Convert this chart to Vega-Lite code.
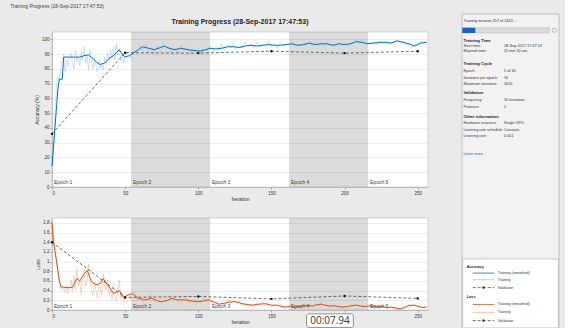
{
  "$schema": "https://vega.github.io/schema/vega-lite/v6.json",
  "background": "#eaeaea",
  "padding": {"left": 10, "top": 3, "right": 5, "bottom": 0},
  "title": {"text": "Training Progress (28-Sep-2017 17:47:53)", "anchor": "start", "fontSize": 5, "fontWeight": "normal", "color": "#444", "dx": -24, "offset": 5},
  "datasets": {
    "epochs": [{"n":"Epoch 1","s":0,"e":54,"g":0},{"n":"Epoch 2","s":54,"e":108,"g":1},{"n":"Epoch 3","s":108,"e":162,"g":0},{"n":"Epoch 4","s":162,"e":216,"g":1},{"n":"Epoch 5","s":216,"e":270,"g":0}],
    "accSm": [{"i":0,"v":14},{"i":2,"v":40},{"i":4,"v":66},{"i":5,"v":73},{"i":7,"v":73},{"i":8,"v":88},{"i":12,"v":88},{"i":16,"v":88},{"i":19,"v":88},{"i":22,"v":89},{"i":25,"v":89.5},{"i":28,"v":87},{"i":31,"v":84},{"i":33,"v":83},{"i":36,"v":84},{"i":39,"v":87},{"i":42,"v":89},{"i":44,"v":91},{"i":46,"v":93},{"i":48,"v":90},{"i":50,"v":88},{"i":53,"v":89},{"i":56,"v":91},{"i":59,"v":93},{"i":62,"v":95},{"i":66,"v":94},{"i":70,"v":93},{"i":74,"v":94.5},{"i":77,"v":95.5},{"i":80,"v":94},{"i":84,"v":93},{"i":88,"v":94},{"i":93,"v":93},{"i":97,"v":92.5},{"i":101,"v":92},{"i":105,"v":93},{"i":108,"v":94},{"i":112,"v":93.5},{"i":116,"v":94},{"i":120,"v":95},{"i":124,"v":95},{"i":128,"v":94.5},{"i":132,"v":95.5},{"i":136,"v":96},{"i":140,"v":95.5},{"i":144,"v":96},{"i":148,"v":96.5},{"i":152,"v":96},{"i":156,"v":96},{"i":160,"v":96.5},{"i":164,"v":97},{"i":168,"v":96},{"i":172,"v":96.5},{"i":176,"v":97.5},{"i":180,"v":96.5},{"i":184,"v":97},{"i":188,"v":97},{"i":192,"v":96},{"i":196,"v":97},{"i":200,"v":96.5},{"i":204,"v":97},{"i":208,"v":98.5},{"i":212,"v":98},{"i":216,"v":97},{"i":220,"v":97.5},{"i":224,"v":98},{"i":228,"v":98},{"i":232,"v":97.5},{"i":236,"v":99},{"i":240,"v":98},{"i":244,"v":97},{"i":248,"v":95.5},{"i":252,"v":97.5},{"i":256,"v":98}],
    "accRaw": [{"i":0,"v":9},{"i":1,"v":22},{"i":2,"v":48},{"i":3,"v":68},{"i":4,"v":75},{"i":5,"v":72},{"i":6,"v":80},{"i":7,"v":87},{"i":8,"v":90},{"i":9,"v":78},{"i":10,"v":86},{"i":11,"v":82},{"i":12,"v":88},{"i":13,"v":91},{"i":14,"v":84},{"i":15,"v":80},{"i":16,"v":92},{"i":17,"v":85},{"i":18,"v":88},{"i":19,"v":82},{"i":20,"v":92},{"i":21,"v":86},{"i":22,"v":95},{"i":23,"v":84},{"i":24,"v":89},{"i":25,"v":79},{"i":26,"v":93},{"i":27,"v":85},{"i":28,"v":80},{"i":29,"v":88},{"i":30,"v":82},{"i":31,"v":78},{"i":32,"v":86},{"i":33,"v":80},{"i":34,"v":84},{"i":35,"v":79},{"i":36,"v":88},{"i":37,"v":83},{"i":38,"v":91},{"i":39,"v":85},{"i":40,"v":93},{"i":41,"v":87},{"i":42,"v":95},{"i":43,"v":86},{"i":44,"v":97},{"i":45,"v":89},{"i":46,"v":93},{"i":47,"v":85},{"i":48,"v":90},{"i":49,"v":84},{"i":50,"v":89},{"i":52,"v":92},{"i":54,"v":87},{"i":56,"v":94},{"i":58,"v":90},{"i":60,"v":96},{"i":62,"v":92},{"i":64,"v":97},{"i":66,"v":91},{"i":68,"v":95},{"i":70,"v":90},{"i":72,"v":96},{"i":74,"v":92},{"i":76,"v":98},{"i":78,"v":93},{"i":80,"v":95},{"i":82,"v":90},{"i":84,"v":94},{"i":86,"v":91},{"i":88,"v":96},{"i":90,"v":92},{"i":92,"v":95},{"i":94,"v":90},{"i":96,"v":94},{"i":98,"v":91},{"i":100,"v":93},{"i":102,"v":90},{"i":104,"v":95},{"i":106,"v":92},{"i":108,"v":96},{"i":110,"v":91},{"i":112,"v":95},{"i":114,"v":93},{"i":116,"v":97},{"i":118,"v":92},{"i":120,"v":96},{"i":122,"v":94},{"i":124,"v":98},{"i":126,"v":93},{"i":128,"v":96},{"i":130,"v":94},{"i":132,"v":98},{"i":134,"v":95},{"i":136,"v":97},{"i":138,"v":94},{"i":140,"v":98},{"i":142,"v":95},{"i":144,"v":97},{"i":146,"v":95},{"i":148,"v":99},{"i":150,"v":95},{"i":152,"v":97},{"i":154,"v":94},{"i":156,"v":98},{"i":158,"v":95},{"i":160,"v":97},{"i":162,"v":96},{"i":164,"v":99},{"i":166,"v":95},{"i":168,"v":97},{"i":170,"v":95},{"i":172,"v":98},{"i":174,"v":96},{"i":176,"v":99},{"i":178,"v":95},{"i":180,"v":98},{"i":182,"v":96},{"i":184,"v":98},{"i":186,"v":95},{"i":188,"v":99},{"i":190,"v":96},{"i":192,"v":97},{"i":194,"v":95},{"i":196,"v":98},{"i":198,"v":96},{"i":200,"v":97},{"i":202,"v":95},{"i":204,"v":98},{"i":206,"v":97},{"i":208,"v":100},{"i":210,"v":97},{"i":212,"v":99},{"i":214,"v":96},{"i":216,"v":98},{"i":218,"v":97},{"i":220,"v":99},{"i":222,"v":96},{"i":224,"v":99},{"i":226,"v":97},{"i":228,"v":99},{"i":230,"v":96},{"i":232,"v":98},{"i":234,"v":98},{"i":236,"v":100},{"i":238,"v":97},{"i":240,"v":99},{"i":242,"v":96},{"i":244,"v":97},{"i":246,"v":94},{"i":248,"v":96},{"i":250,"v":97},{"i":252,"v":99},{"i":254,"v":97},{"i":256,"v":99}],
    "accVal": [{"i":0,"v":36},{"i":50,"v":91},{"i":100,"v":90.7},{"i":150,"v":92},{"i":200,"v":90.7},{"i":250,"v":92}],
    "lossSm": [{"i":0,"v":1.81},{"i":1,"v":1.4},{"i":3,"v":1.03},{"i":4,"v":0.82},{"i":5,"v":0.62},{"i":6,"v":0.48},{"i":8,"v":0.47},{"i":11,"v":0.46},{"i":14,"v":0.47},{"i":17,"v":0.65},{"i":19,"v":0.6},{"i":21,"v":0.7},{"i":24,"v":0.82},{"i":27,"v":0.58},{"i":30,"v":0.52},{"i":33,"v":0.55},{"i":35,"v":0.65},{"i":37,"v":0.56},{"i":39,"v":0.48},{"i":42,"v":0.34},{"i":44,"v":0.37},{"i":46,"v":0.4},{"i":49,"v":0.26},{"i":52,"v":0.31},{"i":55,"v":0.34},{"i":59,"v":0.24},{"i":64,"v":0.21},{"i":68,"v":0.24},{"i":72,"v":0.19},{"i":75,"v":0.17},{"i":79,"v":0.2},{"i":82,"v":0.24},{"i":86,"v":0.21},{"i":91,"v":0.21},{"i":95,"v":0.19},{"i":100,"v":0.17},{"i":104,"v":0.19},{"i":107,"v":0.21},{"i":111,"v":0.16},{"i":114,"v":0.12},{"i":118,"v":0.14},{"i":122,"v":0.17},{"i":126,"v":0.17},{"i":130,"v":0.13},{"i":134,"v":0.11},{"i":137,"v":0.1},{"i":141,"v":0.12},{"i":146,"v":0.13},{"i":150,"v":0.1},{"i":154,"v":0.1},{"i":157,"v":0.07},{"i":160,"v":0.06},{"i":163,"v":0.08},{"i":166,"v":0.06},{"i":169,"v":0.07},{"i":172,"v":0.09},{"i":175,"v":0.1},{"i":178,"v":0.08},{"i":181,"v":0.11},{"i":184,"v":0.12},{"i":187,"v":0.1},{"i":190,"v":0.08},{"i":193,"v":0.09},{"i":196,"v":0.07},{"i":199,"v":0.06},{"i":202,"v":0.07},{"i":205,"v":0.09},{"i":208,"v":0.1},{"i":211,"v":0.08},{"i":214,"v":0.07},{"i":217,"v":0.09},{"i":220,"v":0.08},{"i":223,"v":0.06},{"i":226,"v":0.07},{"i":229,"v":0.05},{"i":232,"v":0.06},{"i":235,"v":0.04},{"i":238,"v":0.02},{"i":241,"v":0.05},{"i":244,"v":0.09},{"i":247,"v":0.1},{"i":250,"v":0.08},{"i":253,"v":0.05},{"i":256,"v":0.06}],
    "lossRaw": [{"i":0,"v":1.85},{"i":1,"v":1.55},{"i":2,"v":1.25},{"i":3,"v":1.0},{"i":4,"v":0.8},{"i":5,"v":0.55},{"i":6,"v":0.5},{"i":7,"v":0.4},{"i":8,"v":0.48},{"i":9,"v":0.36},{"i":10,"v":0.52},{"i":11,"v":0.34},{"i":12,"v":0.46},{"i":13,"v":0.62},{"i":14,"v":0.38},{"i":15,"v":0.72},{"i":16,"v":0.42},{"i":17,"v":0.85},{"i":18,"v":0.5},{"i":19,"v":0.6},{"i":20,"v":0.32},{"i":21,"v":0.7},{"i":22,"v":0.85},{"i":23,"v":0.48},{"i":24,"v":0.62},{"i":25,"v":0.95},{"i":26,"v":0.55},{"i":27,"v":0.42},{"i":28,"v":0.3},{"i":29,"v":0.58},{"i":30,"v":0.4},{"i":31,"v":0.24},{"i":32,"v":0.52},{"i":33,"v":0.46},{"i":34,"v":0.32},{"i":35,"v":0.75},{"i":36,"v":0.5},{"i":37,"v":0.4},{"i":38,"v":0.62},{"i":39,"v":0.28},{"i":40,"v":0.45},{"i":41,"v":0.22},{"i":42,"v":0.55},{"i":43,"v":0.28},{"i":44,"v":0.18},{"i":45,"v":0.42},{"i":46,"v":0.62},{"i":47,"v":0.24},{"i":48,"v":0.35},{"i":49,"v":0.18},{"i":50,"v":0.3},{"i":52,"v":0.36},{"i":54,"v":0.22},{"i":56,"v":0.4},{"i":58,"v":0.18},{"i":60,"v":0.3},{"i":62,"v":0.14},{"i":64,"v":0.26},{"i":66,"v":0.2},{"i":68,"v":0.34},{"i":70,"v":0.15},{"i":72,"v":0.25},{"i":74,"v":0.12},{"i":76,"v":0.22},{"i":78,"v":0.16},{"i":80,"v":0.3},{"i":82,"v":0.18},{"i":84,"v":0.26},{"i":86,"v":0.14},{"i":88,"v":0.24},{"i":90,"v":0.17},{"i":92,"v":0.28},{"i":94,"v":0.12},{"i":96,"v":0.2},{"i":98,"v":0.1},{"i":100,"v":0.22},{"i":102,"v":0.14},{"i":104,"v":0.25},{"i":106,"v":0.16},{"i":108,"v":0.22},{"i":110,"v":0.12},{"i":112,"v":0.18},{"i":114,"v":0.08},{"i":116,"v":0.16},{"i":118,"v":0.1},{"i":120,"v":0.22},{"i":122,"v":0.12},{"i":124,"v":0.2},{"i":126,"v":0.14},{"i":128,"v":0.18},{"i":130,"v":0.08},{"i":132,"v":0.14},{"i":134,"v":0.07},{"i":136,"v":0.12},{"i":138,"v":0.06},{"i":140,"v":0.15},{"i":142,"v":0.09},{"i":144,"v":0.16},{"i":146,"v":0.1},{"i":148,"v":0.12},{"i":150,"v":0.06},{"i":152,"v":0.1},{"i":154,"v":0.05},{"i":156,"v":0.12},{"i":158,"v":0.04},{"i":160,"v":0.09},{"i":162,"v":0.05},{"i":164,"v":0.1},{"i":166,"v":0.04},{"i":168,"v":0.08},{"i":170,"v":0.06},{"i":172,"v":0.12},{"i":174,"v":0.07},{"i":176,"v":0.13},{"i":178,"v":0.06},{"i":180,"v":0.14},{"i":182,"v":0.08},{"i":184,"v":0.15},{"i":186,"v":0.07},{"i":188,"v":0.12},{"i":190,"v":0.05},{"i":192,"v":0.1},{"i":194,"v":0.06},{"i":196,"v":0.09},{"i":198,"v":0.04},{"i":200,"v":0.08},{"i":202,"v":0.05},{"i":204,"v":0.11},{"i":206,"v":0.07},{"i":208,"v":0.13},{"i":210,"v":0.06},{"i":212,"v":0.1},{"i":214,"v":0.05},{"i":216,"v":0.11},{"i":218,"v":0.06},{"i":220,"v":0.1},{"i":222,"v":0.04},{"i":224,"v":0.08},{"i":226,"v":0.05},{"i":228,"v":0.07},{"i":230,"v":0.03},{"i":232,"v":0.08},{"i":234,"v":0.03},{"i":236,"v":0.05},{"i":238,"v":0.02},{"i":240,"v":0.06},{"i":242,"v":0.08},{"i":244,"v":0.12},{"i":246,"v":0.09},{"i":248,"v":0.13},{"i":250,"v":0.06},{"i":252,"v":0.08},{"i":254,"v":0.04},{"i":256,"v":0.07}],
    "lossVal": [{"i":0,"v":1.4},{"i":50,"v":0.26},{"i":100,"v":0.28},{"i":150,"v":0.23},{"i":200,"v":0.29},{"i":250,"v":0.24}],
    "info": [
      {"l":0,"c":0,"t":"Training iteration 257 of 1620...","w":"n"},
      {"l":3,"c":0,"t":"Training Time","w":"b"},
      {"l":3.8,"c":0,"t":"Start time:","w":"n"},{"l":3.8,"c":1,"t":"28-Sep-2017 17:47:53","w":"n"},
      {"l":4.6,"c":0,"t":"Elapsed time:","w":"n"},{"l":4.6,"c":1,"t":"15 min 50 sec","w":"n"},
      {"l":6.5,"c":0,"t":"Training Cycle","w":"b"},
      {"l":7.6,"c":0,"t":"Epoch:","w":"n"},{"l":7.6,"c":1,"t":"5 of 30","w":"n"},
      {"l":8.6,"c":0,"t":"Iterations per epoch:","w":"n"},{"l":8.6,"c":1,"t":"54","w":"n"},
      {"l":9.6,"c":0,"t":"Maximum iterations:","w":"n"},{"l":9.6,"c":1,"t":"1620","w":"n"},
      {"l":10.9,"c":0,"t":"Validation","w":"b"},
      {"l":12,"c":0,"t":"Frequency:","w":"n"},{"l":12,"c":1,"t":"50 iterations","w":"n"},
      {"l":13,"c":0,"t":"Patience:","w":"n"},{"l":13,"c":1,"t":"5","w":"n"},
      {"l":14.5,"c":0,"t":"Other information","w":"b"},
      {"l":15.5,"c":0,"t":"Hardware resource:","w":"n"},{"l":15.5,"c":1,"t":"Single GPU","w":"n"},
      {"l":16.5,"c":0,"t":"Learning rate schedule:","w":"n"},{"l":16.5,"c":1,"t":"Constant","w":"n"},
      {"l":17.5,"c":0,"t":"Learning rate:","w":"n"},{"l":17.5,"c":1,"t":"0.001","w":"n"},
      {"l":20.2,"c":0,"t":"Learn more","w":"k"}
    ],
    "leg": [
      {"l":37.3,"t":"Accuracy","k":"h"},
      {"l":38.2,"t":"Training (smoothed)","k":"as"},
      {"l":39.2,"t":"Training","k":"ar"},
      {"l":40.4,"t":"Validation","k":"v"},
      {"l":41.8,"t":"Loss","k":"h"},
      {"l":42.95,"t":"Training (smoothed)","k":"ls"},
      {"l":44.15,"t":"Training","k":"lr"},
      {"l":45.4,"t":"Validation","k":"v"}
    ]
  },
  "spacing": 32,
  "hconcat": [
    {
      "spacing": 15,
      "vconcat": [
        {
          "width": 376, "height": 155,
          "title": {"text": "Training Progress (28-Sep-2017 17:47:53)", "fontSize": 7, "fontWeight": "bold", "color": "#222", "offset": 7.5},
          "layer": [
            {"data": {"name": "epochs"}, "transform": [{"filter": "datum.g == 1"}],
             "mark": {"type": "rect", "color": "#000", "opacity": 0.14, "clip": true},
             "encoding": {
               "x": {"field": "s", "type": "quantitative", "title": "Iteration", "scale": {"domain": [0, 257], "nice": false}, "axis": {"values": [0,50,100,150,200,250], "grid": false}},
               "x2": {"field": "e"}}},
            {"data": {"name": "accRaw"}, "mark": {"type": "line", "color": "#a9cbe8", "strokeWidth": 0.6},
             "encoding": {
               "x": {"field": "i", "type": "quantitative", "title": "Iteration", "scale": {"domain": [0, 257], "nice": false}, "axis": {"values": [0,50,100,150,200,250], "grid": false}},
               "y": {"field": "v", "type": "quantitative", "title": "Accuracy (%)", "scale": {"domain": [0, 105], "nice": false}, "axis": {"values": [0,10,20,30,40,50,60,70,80,90,100], "labelOverlap": false}}}},
            {"data": {"name": "accSm"}, "mark": {"type": "line", "color": "#0072bd", "strokeWidth": 1},
             "encoding": {
               "x": {"field": "i", "type": "quantitative", "title": "Iteration", "scale": {"domain": [0, 257], "nice": false}, "axis": {"values": [0,50,100,150,200,250], "grid": false}},
               "y": {"field": "v", "type": "quantitative", "title": "Accuracy (%)", "scale": {"domain": [0, 105], "nice": false}, "axis": {"values": [0,10,20,30,40,50,60,70,80,90,100], "labelOverlap": false}}}},
            {"data": {"name": "accVal"}, "mark": {"type": "line", "color": "#333", "strokeWidth": 0.7, "strokeDash": [3, 2], "point": {"filled": true, "color": "#111", "size": 6}},
             "encoding": {
               "x": {"field": "i", "type": "quantitative", "title": "Iteration", "scale": {"domain": [0, 257], "nice": false}, "axis": {"values": [0,50,100,150,200,250], "grid": false}},
               "y": {"field": "v", "type": "quantitative", "title": "Accuracy (%)", "scale": {"domain": [0, 105], "nice": false}, "axis": {"values": [0,10,20,30,40,50,60,70,80,90,100], "labelOverlap": false}}}},
            {"data": {"name": "epochs"}, "mark": {"type": "text", "align": "left", "baseline": "bottom", "dx": 2, "dy": -2, "fontSize": 5, "color": "#444", "clip": true},
             "encoding": {
               "x": {"field": "s", "type": "quantitative", "title": "Iteration", "scale": {"domain": [0, 257], "nice": false}, "axis": {"values": [0,50,100,150,200,250], "grid": false}},
               "y": {"datum": 0, "type": "quantitative", "title": "Accuracy (%)", "scale": {"domain": [0, 105], "nice": false}, "axis": {"values": [0,10,20,30,40,50,60,70,80,90,100], "labelOverlap": false}},
               "text": {"field": "n"}}}
          ]
        },
        {
          "width": 376, "height": 92,
          "layer": [
            {"data": {"name": "epochs"}, "transform": [{"filter": "datum.g == 1"}],
             "mark": {"type": "rect", "color": "#000", "opacity": 0.14, "clip": true},
             "encoding": {
               "x": {"field": "s", "type": "quantitative", "title": "Iteration", "scale": {"domain": [0, 257], "nice": false}, "axis": {"values": [0,50,100,150,200,250], "grid": false, "labelExpr": "datum.value == 200 ? '' : datum.label"}},
               "x2": {"field": "e"}}},
            {"data": {"name": "lossRaw"}, "mark": {"type": "line", "color": "#f2b99e", "strokeWidth": 0.6},
             "encoding": {
               "x": {"field": "i", "type": "quantitative", "title": "Iteration", "scale": {"domain": [0, 257], "nice": false}, "axis": {"values": [0,50,100,150,200,250], "grid": false, "labelExpr": "datum.value == 200 ? '' : datum.label"}},
               "y": {"field": "v", "type": "quantitative", "title": "Loss", "scale": {"domain": [0, 1.9], "nice": false}, "axis": {"values": [0,0.2,0.4,0.6,0.8,1,1.2,1.4,1.6,1.8], "format": "~g", "labelOverlap": false}}}},
            {"data": {"name": "lossSm"}, "mark": {"type": "line", "color": "#d95319", "strokeWidth": 1},
             "encoding": {
               "x": {"field": "i", "type": "quantitative", "title": "Iteration", "scale": {"domain": [0, 257], "nice": false}, "axis": {"values": [0,50,100,150,200,250], "grid": false, "labelExpr": "datum.value == 200 ? '' : datum.label"}},
               "y": {"field": "v", "type": "quantitative", "title": "Loss", "scale": {"domain": [0, 1.9], "nice": false}, "axis": {"values": [0,0.2,0.4,0.6,0.8,1,1.2,1.4,1.6,1.8], "format": "~g", "labelOverlap": false}}}},
            {"data": {"name": "lossVal"}, "mark": {"type": "line", "color": "#333", "strokeWidth": 0.7, "strokeDash": [3, 2], "point": {"filled": true, "color": "#111", "size": 6}},
             "encoding": {
               "x": {"field": "i", "type": "quantitative", "title": "Iteration", "scale": {"domain": [0, 257], "nice": false}, "axis": {"values": [0,50,100,150,200,250], "grid": false, "labelExpr": "datum.value == 200 ? '' : datum.label"}},
               "y": {"field": "v", "type": "quantitative", "title": "Loss", "scale": {"domain": [0, 1.9], "nice": false}, "axis": {"values": [0,0.2,0.4,0.6,0.8,1,1.2,1.4,1.6,1.8], "format": "~g", "labelOverlap": false}}}},
            {"data": {"name": "epochs"}, "mark": {"type": "text", "align": "left", "baseline": "bottom", "dx": 2, "dy": -1, "fontSize": 5, "color": "#444", "clip": true},
             "encoding": {
               "x": {"field": "s", "type": "quantitative", "title": "Iteration", "scale": {"domain": [0, 257], "nice": false}, "axis": {"values": [0,50,100,150,200,250], "grid": false, "labelExpr": "datum.value == 200 ? '' : datum.label"}},
               "y": {"datum": 0, "type": "quantitative", "title": "Loss", "scale": {"domain": [0, 1.9], "nice": false}, "axis": {"values": [0,0.2,0.4,0.6,0.8,1,1.2,1.4,1.6,1.8], "format": "~g", "labelOverlap": false}},
               "text": {"field": "n"}}},
            {"data": {"values": [{"t": "00:07.94"}]}, "mark": {"type": "rect", "fill": "white", "stroke": "#777", "strokeWidth": 0.8, "cornerRadius": 2},
             "encoding": {
               "x": {"datum": 174, "type": "quantitative", "title": "Iteration", "scale": {"domain": [0, 257], "nice": false}, "axis": {"values": [0,50,100,150,200,250], "grid": false, "labelExpr": "datum.value == 200 ? '' : datum.label"}},
               "x2": {"datum": 206},
               "y": {"datum": -0.08, "type": "quantitative", "title": "Loss", "scale": {"domain": [0, 1.9], "nice": false}, "axis": {"values": [0,0.2,0.4,0.6,0.8,1,1.2,1.4,1.6,1.8], "format": "~g", "labelOverlap": false}},
               "y2": {"datum": -0.36}}},
            {"data": {"values": [{"t": "00:07.94"}]}, "mark": {"type": "text", "fontSize": 10, "font": "Open Sans", "color": "#333", "align": "center", "baseline": "middle"},
             "encoding": {
               "x": {"datum": 190, "type": "quantitative", "title": "Iteration", "scale": {"domain": [0, 257], "nice": false}, "axis": {"values": [0,50,100,150,200,250], "grid": false, "labelExpr": "datum.value == 200 ? '' : datum.label"}},
               "y": {"datum": -0.22, "type": "quantitative", "title": "Loss", "scale": {"domain": [0, 1.9], "nice": false}, "axis": {"values": [0,0.2,0.4,0.6,0.8,1,1.2,1.4,1.6,1.8], "format": "~g", "labelOverlap": false}},
               "text": {"field": "t"}}}
          ]
        }
      ]
    },
    {
      "width": 97, "height": 297,
      "view": {"fill": null, "stroke": null},
      "layer": [
        {"data": {"values": [{"k": "panel"}]}, "mark": {"type": "rect", "fill": "#f2f2f2", "stroke": "#b8b8b8", "strokeWidth": 0.8},
         "encoding": {
           "x": {"datum": -0.037, "type": "quantitative", "scale": {"domain": [-0.037, 2.358], "nice": false, "zero": false}, "axis": null},
           "x2": {"datum": 2.358},
           "y": {"datum": -1.06, "type": "quantitative", "scale": {"domain": [1.667, 46.67], "nice": false, "zero": false, "reverse": true}, "axis": null},
           "y2": {"datum": 46.67}}},
        {"data": {"values": [{"k": "bar"}]}, "mark": {"type": "rect", "fill": "#dadada", "stroke": "#bbb", "strokeWidth": 0.5},
         "encoding": {
           "x": {"datum": -0.03, "type": "quantitative", "scale": {"domain": [-0.037, 2.358], "nice": false, "zero": false}, "axis": null},
           "x2": {"datum": 2.118},
           "y": {"datum": 1.02, "type": "quantitative", "scale": {"domain": [1.667, 46.67], "nice": false, "zero": false, "reverse": true}, "axis": null},
           "y2": {"datum": 1.82}}},
        {"data": {"values": [{"k": "done"}]}, "mark": {"type": "rect", "fill": "#1565c0"},
         "encoding": {
           "x": {"datum": -0.03, "type": "quantitative", "scale": {"domain": [-0.037, 2.358], "nice": false, "zero": false}, "axis": null},
           "x2": {"datum": 0.291},
           "y": {"datum": 1.02, "type": "quantitative", "scale": {"domain": [1.667, 46.67], "nice": false, "zero": false, "reverse": true}, "axis": null},
           "y2": {"datum": 1.82}}},
        {"data": {"values": [{"k": "stop"}]}, "mark": {"type": "point", "shape": "circle", "filled": false, "stroke": "#666", "strokeWidth": 0.6, "size": 18},
         "encoding": {
           "x": {"datum": 2.242, "type": "quantitative", "scale": {"domain": [-0.037, 2.358], "nice": false, "zero": false}, "axis": null},
           "y": {"datum": 1.41, "type": "quantitative", "scale": {"domain": [1.667, 46.67], "nice": false, "zero": false, "reverse": true}, "axis": null}}},
        {"data": {"values": [{"k": "box"}]}, "mark": {"type": "rect", "fill": "white", "stroke": "#aaa", "strokeWidth": 0.6},
         "encoding": {
           "x": {"datum": -0.02, "type": "quantitative", "scale": {"domain": [-0.037, 2.358], "nice": false, "zero": false}, "axis": null},
           "x2": {"datum": 2.34},
           "y": {"datum": 36.06, "type": "quantitative", "scale": {"domain": [1.667, 46.67], "nice": false, "zero": false, "reverse": true}, "axis": null},
           "y2": {"datum": 46.5}}},
        {"data": {"name": "info"}, "transform": [{"filter": "datum.w == 'n'"}], "mark": {"type": "text", "align": "left", "baseline": "middle", "fontSize": 3.8, "color": "#333"},
         "encoding": {
           "x": {"field": "c", "type": "quantitative", "scale": {"domain": [-0.037, 2.358], "nice": false, "zero": false}, "axis": null},
           "y": {"field": "l", "type": "quantitative", "scale": {"domain": [1.667, 46.67], "nice": false, "zero": false, "reverse": true}, "axis": null},
           "text": {"field": "t"}}},
        {"data": {"name": "info"}, "transform": [{"filter": "datum.w == 'b'"}], "mark": {"type": "text", "align": "left", "baseline": "middle", "fontSize": 4.2, "fontWeight": "bold", "color": "#222"},
         "encoding": {
           "x": {"field": "c", "type": "quantitative", "scale": {"domain": [-0.037, 2.358], "nice": false, "zero": false}, "axis": null},
           "y": {"field": "l", "type": "quantitative", "scale": {"domain": [1.667, 46.67], "nice": false, "zero": false, "reverse": true}, "axis": null},
           "text": {"field": "t"}}},
        {"data": {"name": "info"}, "transform": [{"filter": "datum.w == 'k'"}], "mark": {"type": "text", "align": "left", "baseline": "middle", "fontSize": 3.8, "color": "#1f5fbf"},
         "encoding": {
           "x": {"field": "c", "type": "quantitative", "scale": {"domain": [-0.037, 2.358], "nice": false, "zero": false}, "axis": null},
           "y": {"field": "l", "type": "quantitative", "scale": {"domain": [1.667, 46.67], "nice": false, "zero": false, "reverse": true}, "axis": null},
           "text": {"field": "t"}}},
        {"data": {"name": "leg"}, "transform": [{"filter": "datum.k != 'h' && datum.k != 'v'"}], "mark": {"type": "rule", "strokeWidth": 0.8},
         "encoding": {
           "x": {"datum": 0.227, "type": "quantitative", "scale": {"domain": [-0.037, 2.358], "nice": false, "zero": false}, "axis": null},
           "x2": {"datum": 0.76},
           "y": {"field": "l", "type": "quantitative", "scale": {"domain": [1.667, 46.67], "nice": false, "zero": false, "reverse": true}, "axis": null},
           "color": {"field": "k", "type": "nominal", "scale": {"domain": ["as", "ar", "ls", "lr", "v"], "range": ["#0072bd", "#a9cbe8", "#d95319", "#f2b99e", "#333"]}, "legend": null}}},
        {"data": {"name": "leg"}, "transform": [{"filter": "datum.k == 'v'"}], "mark": {"type": "rule", "strokeWidth": 0.7, "strokeDash": [3, 2], "color": "#333"},
         "encoding": {
           "x": {"datum": 0.227, "type": "quantitative", "scale": {"domain": [-0.037, 2.358], "nice": false, "zero": false}, "axis": null},
           "x2": {"datum": 0.76},
           "y": {"field": "l", "type": "quantitative", "scale": {"domain": [1.667, 46.67], "nice": false, "zero": false, "reverse": true}, "axis": null}}},
        {"data": {"name": "leg"}, "transform": [{"filter": "datum.k == 'ar' || datum.k == 'lr'"}], "mark": {"type": "point", "filled": false, "size": 5, "strokeWidth": 0.5},
         "encoding": {
           "x": {"datum": 0.494, "type": "quantitative", "scale": {"domain": [-0.037, 2.358], "nice": false, "zero": false}, "axis": null},
           "y": {"field": "l", "type": "quantitative", "scale": {"domain": [1.667, 46.67], "nice": false, "zero": false, "reverse": true}, "axis": null},
           "color": {"field": "k", "type": "nominal", "scale": {"domain": ["as", "ar", "ls", "lr", "v"], "range": ["#0072bd", "#a9cbe8", "#d95319", "#f2b99e", "#333"]}, "legend": null}}},
        {"data": {"name": "leg"}, "transform": [{"filter": "datum.k == 'v'"}], "mark": {"type": "point", "filled": true, "size": 7, "color": "#111"},
         "encoding": {
           "x": {"datum": 0.494, "type": "quantitative", "scale": {"domain": [-0.037, 2.358], "nice": false, "zero": false}, "axis": null},
           "y": {"field": "l", "type": "quantitative", "scale": {"domain": [1.667, 46.67], "nice": false, "zero": false, "reverse": true}, "axis": null}}},
        {"data": {"name": "leg"}, "transform": [{"filter": "datum.k == 'h'"}], "mark": {"type": "text", "align": "left", "baseline": "middle", "fontSize": 3.8, "fontWeight": "bold", "color": "#222"},
         "encoding": {
           "x": {"datum": 0.079, "type": "quantitative", "scale": {"domain": [-0.037, 2.358], "nice": false, "zero": false}, "axis": null},
           "y": {"field": "l", "type": "quantitative", "scale": {"domain": [1.667, 46.67], "nice": false, "zero": false, "reverse": true}, "axis": null},
           "text": {"field": "t"}}},
        {"data": {"name": "leg"}, "transform": [{"filter": "datum.k != 'h'"}], "mark": {"type": "text", "align": "left", "baseline": "middle", "fontSize": 3.6, "color": "#333"},
         "encoding": {
           "x": {"datum": 0.844, "type": "quantitative", "scale": {"domain": [-0.037, 2.358], "nice": false, "zero": false}, "axis": null},
           "y": {"field": "l", "type": "quantitative", "scale": {"domain": [1.667, 46.67], "nice": false, "zero": false, "reverse": true}, "axis": null},
           "text": {"field": "t"}}}
      ]
    }
  ],
  "config": {
    "font": "Liberation Sans",
    "view": {"stroke": "#b0b0b0", "strokeWidth": 0.5, "fill": "white"},
    "axis": {"labelFontSize": 4.5, "titleFontSize": 5, "labelColor": "#333", "titleColor": "#333", "titleFontWeight": "normal", "gridColor": "#dcdcdc", "gridWidth": 0.5, "domainColor": "#999", "domainWidth": 0.5, "tickColor": "#666", "tickWidth": 0.5, "tickSize": 2, "labelPadding": 1, "titlePadding": 2, "labelOverlap": false}
  }
}
